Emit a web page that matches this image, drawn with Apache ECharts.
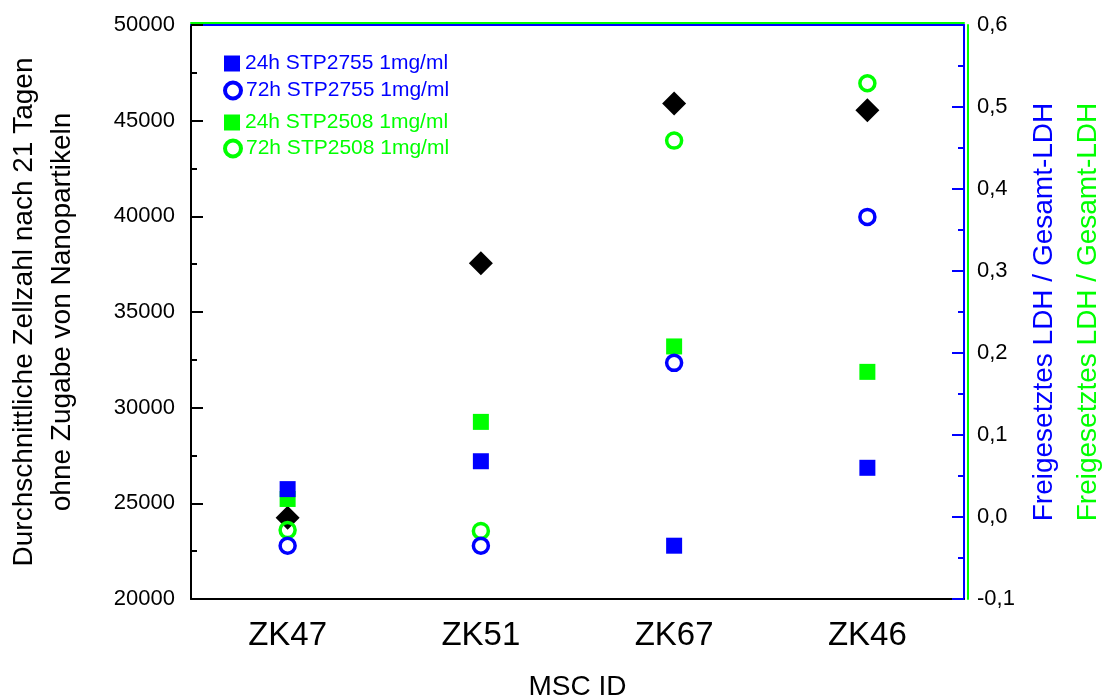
<!DOCTYPE html>
<html>
<head>
<meta charset="utf-8">
<script src="https://cdn.jsdelivr.net/npm/echarts@6/dist/echarts.min.js"></script>
<style>
  html, body { margin: 0; padding: 0; background: #fff; }
  #chart { width: 1102px; height: 697px; }
</style>
</head>
<body>
<div id="chart"></div>
<script>
// MSC donors on the x axis
const categories = ['ZK47', 'ZK51', 'ZK67', 'ZK46'];
// mean cell count after 21 days (left axis)
const cellCounts = [24250, 37550, 45900, 45550];
// released LDH / total LDH (right axis)
const blue24h = [0.034, 0.068, -0.035, 0.060];
const blue72h = [-0.035, -0.035, 0.188, 0.366];
const green24h = [0.022, 0.116, 0.208, 0.177];
const green72h = [-0.016, -0.017, 0.459, 0.529];

const FONT = "'Liberation Sans', Arial, sans-serif";
const BLUE = '#0000ff';
const GREEN = '#00ff00';

const chart = echarts.init(document.getElementById('chart'));

function legendFor(name, color, icon, left, top, ring) {
    return {
        data: [{ name: name, icon: icon }],
        left: left,
        top: top,
        itemWidth: 16,
        itemHeight: 16,
        selectedMode: false,
        itemStyle: ring
            ? { color: 'rgba(0,0,0,0)', borderColor: color, borderWidth: 4, opacity: 1 }
            : { color: color, borderWidth: 0, opacity: 1 },
        textStyle: { color: color, fontSize: 21, fontFamily: FONT }
    };
}

const option = {
    animation: false,
    backgroundColor: '#fff',
    grid: { left: 191, right: 138, top: 25, bottom: 98, outerBoundsMode: 'none' },
    legend: [
        legendFor('24h STP2755 1mg/ml', BLUE, 'rect', 219, 48, false),
        legendFor('72h STP2755 1mg/ml', BLUE, 'circle', 218, 75, true),
        legendFor('24h STP2508 1mg/ml', GREEN, 'rect', 219, 107, false),
        legendFor('72h STP2508 1mg/ml', GREEN, 'circle', 218, 133, true)
    ],
    xAxis: [
        {
            type: 'category',
            data: categories,
            position: 'bottom',
            axisLine: { onZero: false, lineStyle: { color: '#000', width: 2 } },
            axisTick: { alignWithLabel: true, length: 12, lineStyle: { color: '#000', width: 2 } },
            axisLabel: { color: '#000', fontSize: 33, fontFamily: FONT, margin: 20 },
            name: 'MSC ID',
            nameLocation: 'middle',
            nameGap: 74,
            nameTextStyle: { color: '#000', fontSize: 28, fontFamily: FONT },
            splitLine: { show: false }
        },
        {
            type: 'category',
            data: categories,
            position: 'bottom',
            axisLine: { show: false, onZero: false },
            axisTick: { length: 5, lineStyle: { color: '#000', width: 2 } },
            axisLabel: { show: false },
            splitLine: { show: false }
        },
        {
            type: 'category',
            data: categories,
            position: 'top',
            offset: 0,
            axisLine: { onZero: false, lineStyle: { color: BLUE, width: 2 } },
            axisTick: { show: false },
            axisLabel: { show: false }
        },
        {
            type: 'category',
            data: categories,
            position: 'top',
            offset: 2,
            axisLine: { onZero: false, lineStyle: { color: GREEN, width: 2 } },
            axisTick: { show: false },
            axisLabel: { show: false }
        }
    ],
    yAxis: [
        {
            type: 'value',
            position: 'left',
            min: 20000,
            max: 50000,
            interval: 5000,
            axisLine: { show: true, onZero: false, lineStyle: { color: '#000', width: 2 } },
            axisTick: { show: true, inside: true, length: 12, lineStyle: { color: '#000', width: 2 } },
            minorTick: { show: true, splitNumber: 2, length: 6, lineStyle: { color: '#000', width: 2 } },
            splitLine: { show: false },
            axisLabel: {
                color: '#000', fontSize: 22, fontFamily: FONT, margin: 16,
                formatter: v => String(v)
            },
            name: 'Durchschnittliche Zellzahl nach 21 Tagen\nohne Zugabe von Nanopartikeln',
            nameLocation: 'middle',
            nameRotate: 90,
            nameGap: 110,
            nameTextStyle: { color: '#000', fontSize: 28, fontFamily: FONT, lineHeight: 38 }
        },
        {
            type: 'value',
            position: 'right',
            min: -0.1,
            max: 0.6,
            interval: 0.1,
            axisLine: { show: true, onZero: false, lineStyle: { color: BLUE, width: 2 } },
            axisTick: { show: true, inside: true, length: 12, lineStyle: { color: BLUE, width: 2 } },
            minorTick: { show: true, splitNumber: 2, length: 6, lineStyle: { color: BLUE, width: 2 } },
            splitLine: { show: false },
            axisLabel: {
                color: '#000', fontSize: 22, fontFamily: FONT, margin: 13,
                formatter: v => v.toFixed(1).replace('.', ',')
            },
            name: 'Freigesetztes LDH / Gesamt-LDH',
            nameLocation: 'middle',
            nameRotate: 90,
            nameGap: 66,
            nameTextStyle: { color: BLUE, fontSize: 28, fontFamily: FONT }
        },
        {
            type: 'value',
            position: 'right',
            offset: 4,
            min: -0.1,
            max: 0.6,
            interval: 0.1,
            axisLine: { show: true, onZero: false, lineStyle: { color: GREEN, width: 2 } },
            axisTick: { show: false },
            axisLabel: { show: false },
            splitLine: { show: false },
            name: 'Freigesetztes LDH / Gesamt-LDH',
            nameLocation: 'middle',
            nameRotate: 90,
            nameGap: 106,
            nameTextStyle: { color: GREEN, fontSize: 28, fontFamily: FONT }
        }
    ],
    series: [
        {
            name: 'Zellzahl',
            type: 'scatter',
            yAxisIndex: 0,
            symbol: 'diamond',
            symbolSize: 24,
            itemStyle: { color: '#000', opacity: 1 },
            data: cellCounts,
            z: 2
        },
        {
            name: '24h STP2508 1mg/ml',
            type: 'scatter',
            yAxisIndex: 1,
            symbol: 'rect',
            symbolSize: 16,
            itemStyle: { color: GREEN, opacity: 1 },
            data: green24h,
            z: 3
        },
        {
            name: '72h STP2508 1mg/ml',
            type: 'scatter',
            yAxisIndex: 1,
            symbol: 'circle',
            symbolSize: 15,
            itemStyle: { color: 'rgba(0,0,0,0)', borderColor: GREEN, borderWidth: 3.5, opacity: 1 },
            data: green72h,
            z: 4
        },
        {
            name: '24h STP2755 1mg/ml',
            type: 'scatter',
            yAxisIndex: 1,
            symbol: 'rect',
            symbolSize: 16,
            itemStyle: { color: BLUE, opacity: 1 },
            data: blue24h,
            z: 5
        },
        {
            name: '72h STP2755 1mg/ml',
            type: 'scatter',
            yAxisIndex: 1,
            symbol: 'circle',
            symbolSize: 15,
            itemStyle: { color: 'rgba(0,0,0,0)', borderColor: BLUE, borderWidth: 3.5, opacity: 1 },
            data: blue72h,
            z: 6
        }
    ]
};

chart.setOption(option);
</script>
</body>
</html>
